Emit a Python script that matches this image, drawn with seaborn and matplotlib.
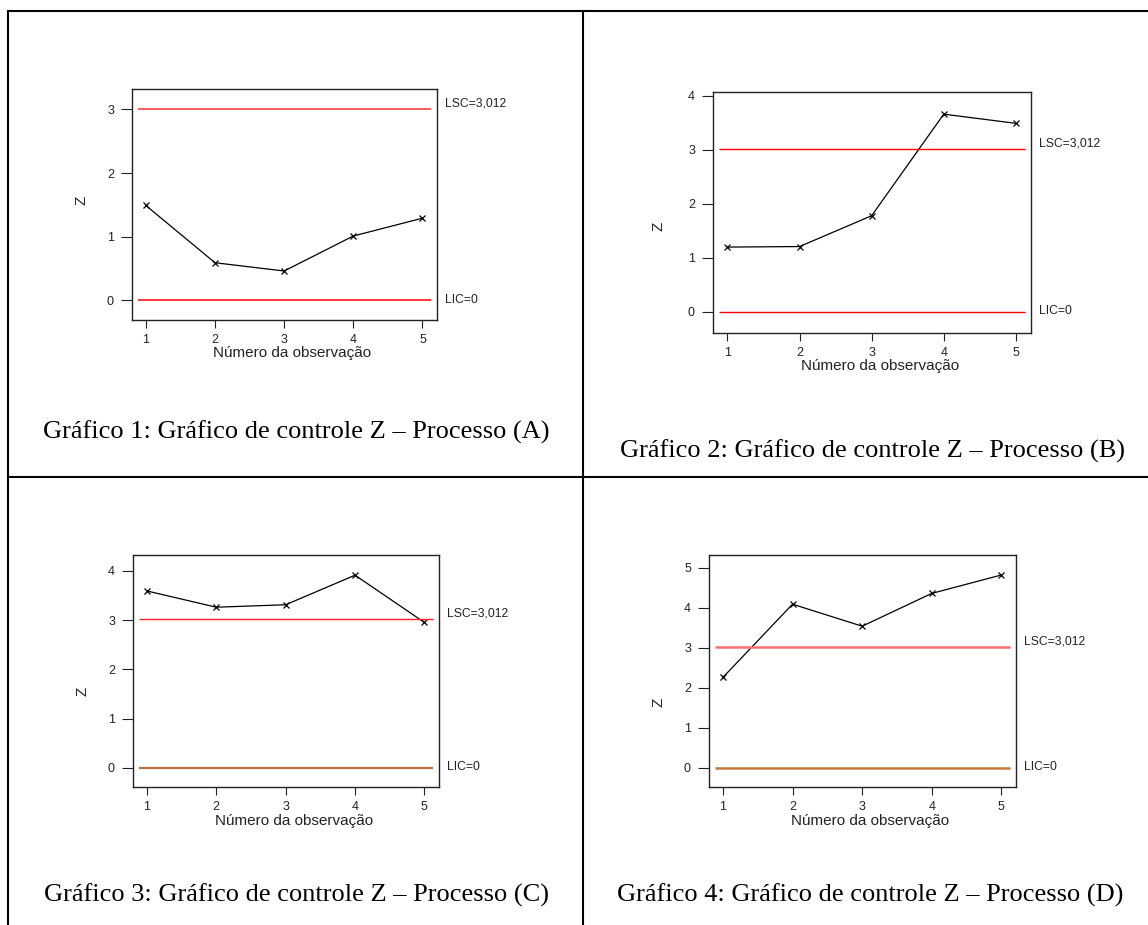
import matplotlib
matplotlib.use("Agg")
import matplotlib.pyplot as plt
import seaborn as sns
from matplotlib.lines import Line2D
from matplotlib.transforms import blended_transform_factory

W, H = 1148, 925
DPI = 100

OBS = [1, 2, 3, 4, 5]
Z_A = [1.49, 0.59, 0.46, 1.01, 1.29]
Z_B = [1.20, 1.21, 1.78, 3.66, 3.49]
Z_C = [3.59, 3.26, 3.31, 3.91, 2.95]
Z_D = [2.26, 4.09, 3.54, 4.36, 4.82]
LSC = 3.012
LIC = 0
LSC_TEXT = "LSC=3,012"
LIC_TEXT = "LIC=0"
XLABEL = "Número da observação"
YLABEL = "Z"
CAPTIONS = [
    "Gráfico 1: Gráfico de controle Z – Processo (A)",
    "Gráfico 2: Gráfico de controle Z – Processo (B)",
    "Gráfico 3: Gráfico de controle Z – Processo (C)",
    "Gráfico 4: Gráfico de controle Z – Processo (D)",
]

# per panel: data, box in pixels (left, top, right, bottom), ylim, yticks,
# ylabel position (axes fraction), line colours / widths
PANELS = [
    dict(z=Z_A, box=(132, 89, 437, 320), ylim=(-0.31, 3.32), yticks=range(0, 4),
         zpos=(-0.164, 0.52), xl_y=-0.142,
         lsc=("#ff5a5a", 1.4), lic=("#ff0000", 1.1)),
    dict(z=Z_B, box=(713, 92, 1031, 333), ylim=(-0.39, 4.07), yticks=range(0, 5),
         zpos=(-0.171, 0.442), xl_y=-0.139,
         lsc=("#ff0000", 1.0), lic=("#ff0000", 1.0)),
    dict(z=Z_C, box=(133, 555, 439, 787), ylim=(-0.39, 4.32), yticks=range(0, 5),
         zpos=(-0.166, 0.414), xl_y=-0.145,
         lsc=("#ff2020", 1.0), lic=("#b87338", 1.6)),
    dict(z=Z_D, box=(709, 555, 1016, 787), ylim=(-0.48, 5.32), yticks=range(0, 6),
         zpos=(-0.166, 0.363), xl_y=-0.145,
         lsc=("#ff7070", 1.8), lic=("#c07a40", 1.8)),
]
CAPTION_POS = [(296, 432), (872, 451), (296, 895), (870, 895)]

sns.set_theme(style="ticks")
plt.rcParams["font.family"] = ["Liberation Sans", "DejaVu Sans"]


def add_px_axes(fig, left, top, right, bottom):
    return fig.add_axes([left / W, 1 - bottom / H, (right - left) / W, (bottom - top) / H])


def draw_panel(fig, p):
    ax = add_px_axes(fig, *p["box"])
    sns.lineplot(
        x=OBS, y=p["z"], ax=ax, color="black", linewidth=0.9,
        marker="x", markersize=5, markeredgewidth=0.9, markeredgecolor="black",
    )
    ax.hlines(LSC, 0.885, 5.12, color=p["lsc"][0], linewidth=p["lsc"][1])
    ax.hlines(LIC, 0.885, 5.12, color=p["lic"][0], linewidth=p["lic"][1])

    ax.set_xlim(0.8, 5.21)
    ax.set_ylim(*p["ylim"])
    ax.set_xticks(OBS)
    ax.set_yticks(list(p["yticks"]))
    ax.tick_params(axis="y", direction="out", length=8, width=0.8, pad=5,
                   labelsize=9, colors="#222222")
    ax.tick_params(axis="x", direction="out", length=5.5, width=0.8, pad=4.5,
                   labelsize=9, colors="#222222")
    for sp in ax.spines.values():
        sp.set_visible(True)
        sp.set_linewidth(1.0)
        sp.set_color("#222222")

    ax.set_xlabel(XLABEL, fontsize=11, color="#222222")
    ax.xaxis.label.set_va("center")
    ax.xaxis.set_label_coords(0.525, p["xl_y"])
    ax.set_ylabel(YLABEL, fontsize=11, color="#222222")
    ax.yaxis.label.set_va("center")
    ax.yaxis.set_label_coords(*p["zpos"])

    tr = blended_transform_factory(ax.transAxes, ax.transData)
    ax.annotate(LSC_TEXT, xy=(1.025, LSC), xycoords=tr, xytext=(0, 4),
                textcoords="offset points", ha="left", va="center",
                fontsize=8.7, color="#222222", annotation_clip=False)
    ax.annotate(LIC_TEXT, xy=(1.025, LIC), xycoords=tr, xytext=(0, 0.5),
                textcoords="offset points", ha="left", va="center",
                fontsize=8.7, color="#222222", annotation_clip=False)
    return ax


fig = plt.figure(figsize=(W / DPI, H / DPI), dpi=DPI)
fig.patch.set_facecolor("white")

for p in PANELS:
    draw_panel(fig, p)

for text, (cx, cy) in zip(CAPTIONS, CAPTION_POS):
    fig.text(cx / W, 1 - cy / H, text, ha="center", va="center",
             fontsize=19, family=["Liberation Serif", "DejaVu Serif"], color="black")

# table grid
TABLE_LW = 1.5
for (x0, y0, x1, y1) in [(7, 11, 1148, 11), (8, 10, 8, 925), (583, 10, 583, 925),
                         (7, 477, 1148, 477)]:
    fig.add_artist(Line2D([x0 / W, x1 / W], [1 - y0 / H, 1 - y1 / H],
                          transform=fig.transFigure, color="black",
                          linewidth=TABLE_LW, solid_capstyle="butt"))

fig.savefig("out.png", dpi=DPI)
